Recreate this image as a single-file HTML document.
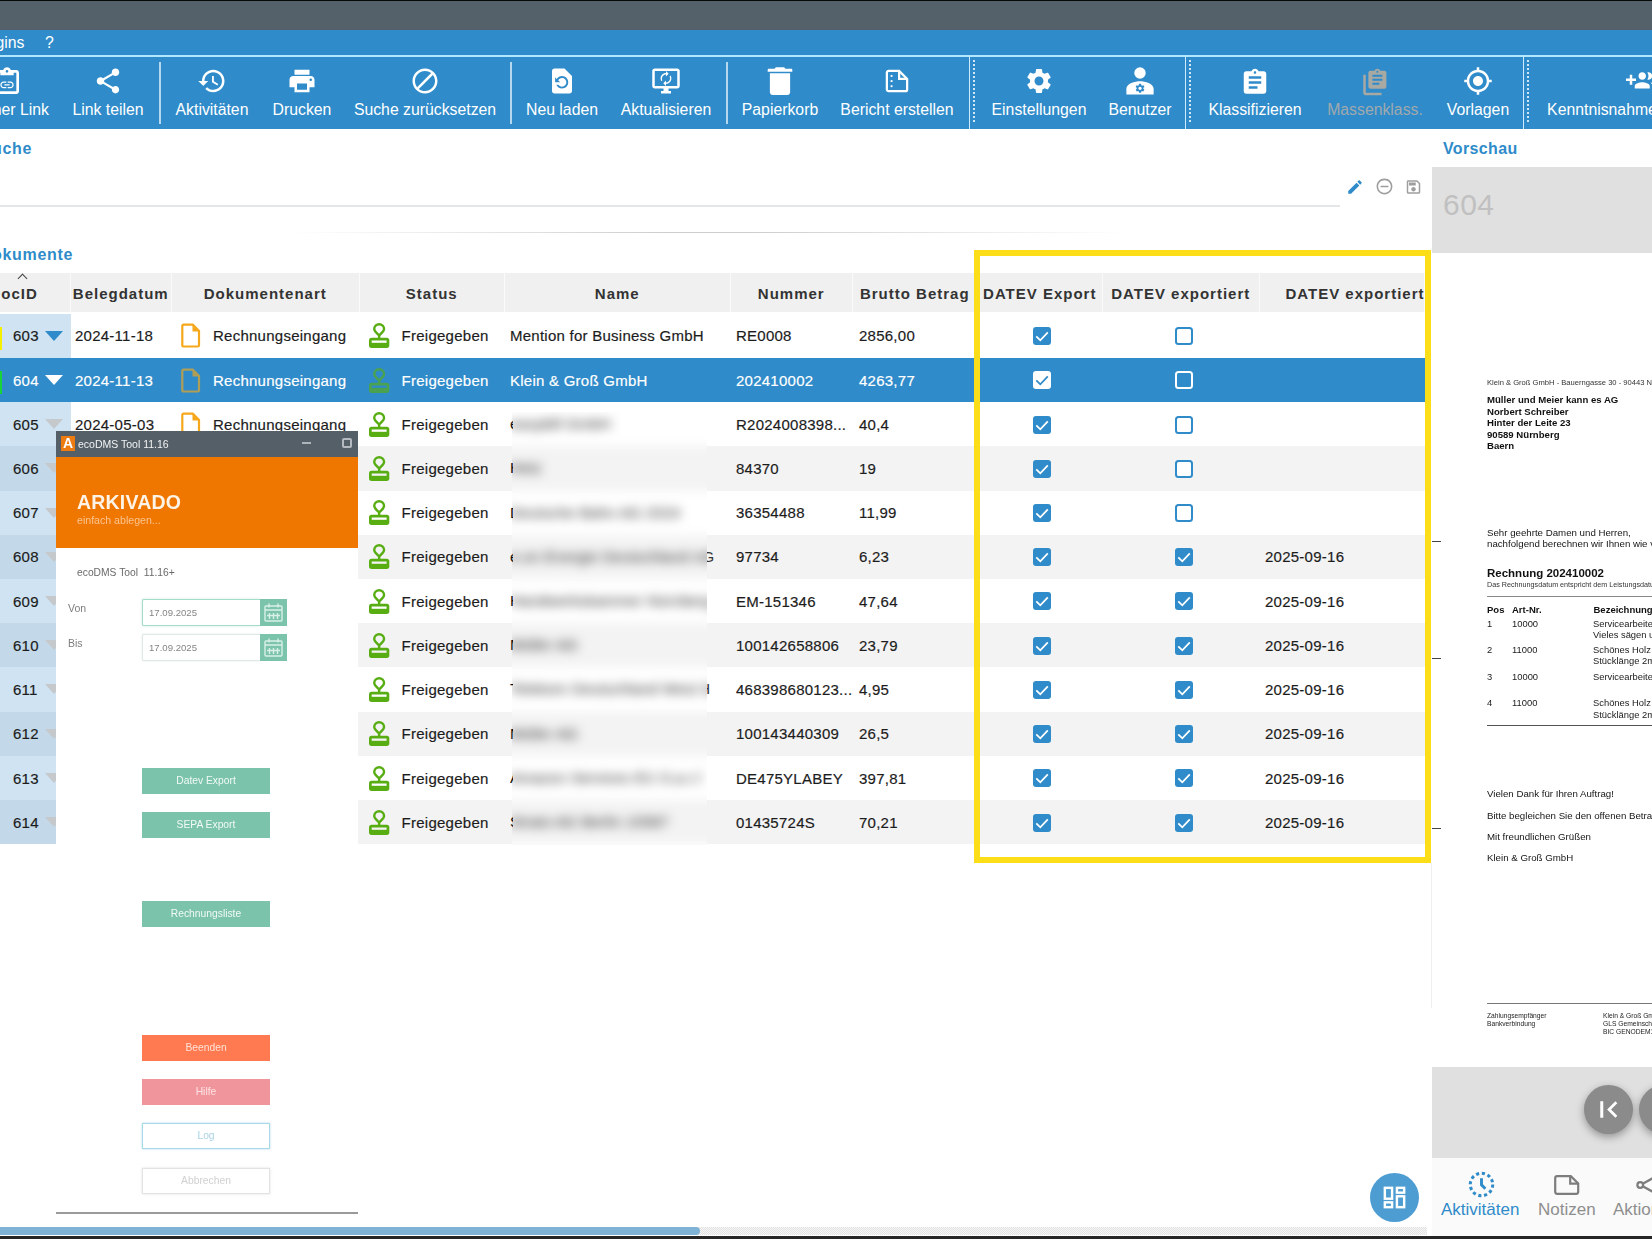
<!DOCTYPE html>
<html lang="de">
<head>
<meta charset="utf-8">
<title>ecoDMS</title>
<style>
*{box-sizing:border-box;margin:0;padding:0}
html,body{width:1652px;height:1239px;overflow:hidden;background:#fff}
body{font-family:"Liberation Sans",Arial,sans-serif;color:#222;position:relative;font-size:15px}
.abs{position:absolute}
#titlebar{left:0;top:0;width:1652px;height:30px;background:#55616a;border-top:1px solid #070808}
#menubar{left:0;top:30px;width:1652px;height:26px;background:#2f8bc9;color:#fff;font-size:15.800px;line-height:26px}
#menuline{left:0;top:55px;width:1652px;height:2px;background:#b2e8ff}
#toolbar{left:0;top:57px;width:1652px;height:72px;background:#2f8bc9}
.tb{position:absolute;top:0;height:72px;color:#fff;font-size:15.800px;text-align:center;white-space:nowrap}
.tb svg{position:absolute;left:50%;top:9px;width:30px;height:30px;margin-left:-15px;fill:#fff}
.tb span{position:absolute;left:50%;top:43.500px;transform:translateX(-50%);line-height:18px}
.tb.dim{color:#a0a9ae}
.tb.dim svg{fill:#a9a9a4}
.sep{position:absolute;top:5px;width:1.500px;height:62px;background:#b5d8ef}
.grip{position:absolute;top:-1px;width:7px;height:73px;border-left:1.300px solid #cfeaff;}
.grip:after{content:"";position:absolute;left:3px;top:4px;width:2px;height:64px;background:repeating-linear-gradient(to bottom,#cfe6f6 0,#cfe6f6 2px,transparent 2px,transparent 4px)}
h2.sec{position:absolute;font-size:16px;letter-spacing:.7px;font-weight:bold;color:#2f8bc9;white-space:nowrap;line-height:18px}

#grid{left:0;top:273px;width:1425px;height:573px;font-size:15px;letter-spacing:.25px;color:#1c1c1c;-webkit-text-stroke:.18px currentColor}
.hrow{position:absolute;left:0;top:0;width:1425px;height:39px;background:#fafafa}
.hc{-webkit-text-stroke:0;position:absolute;top:0;height:39px;background:#f0f0f0;text-align:center;line-height:41px;white-space:nowrap;overflow:hidden;color:#333;font-size:15px;letter-spacing:1px}
.hc.h0{text-align:left}
.hc.h0 b{position:absolute;left:-10.500px}
.hc.h9{text-align:right}
.hc.h9{overflow:visible}
.hc.h9 b{margin-right:-1px}
.sort{position:absolute;left:17.500px;top:0px;width:9px;height:9px}
.sort:before{content:"";position:absolute;left:1px;top:2px;width:6px;height:6px;border-left:1.500px solid #444;border-top:1.500px solid #444;transform:rotate(45deg)}
.row{position:absolute;left:0;width:1425px;background:#fff}
.row.alt{background:#f3f3f3}
.row.sel{background:#2f8bc9;color:#fff}
.c{position:absolute;top:0;height:100%;display:flex;align-items:center;white-space:nowrap}
.c0{left:0;width:71px;background:#cfe3f2}
.alt .c0{background:#c3d9ea}
.sel .c0{background:#2f8bc9}
.id{position:absolute;left:13px}
.tri{position:absolute;left:45px;top:17px;width:0;height:0;border-left:9.500px solid transparent;border-right:9.500px solid transparent;border-top:10.500px solid #c6c9cc}
.row.first .tri{border-top-color:#2f8bc9}
.sel .tri{border-top-color:#fff}
.flag{position:absolute;left:0;top:13.500px;width:2px;height:23px}
.flag.y{background:#f4f000}
.flag.g{background:#18d43a}
.ic{height:24px;flex:none}
.doc{width:20px;height:25px;stroke:#f5a81c;fill:#f5a81c}
.sel .ic{opacity:.66}
.stamp{width:20.300px;height:25px;stroke:#58ad12;fill:#58ad12;margin-top:0}
.stamp .slot{fill:#fff}
.alt .stamp .slot{fill:#f3f3f3}
.sel .stamp .slot{fill:#2f8bc9}
.cb{width:20px;height:20px;flex:none;margin-top:.600px}
.cb.on rect{fill:#2f8bc9}
.cb.on path{stroke:#fff}
.cb.off rect{stroke:#2f8bc9}
.sel .cb.on rect{fill:#fff}
.sel .cb.on path{stroke:#2f8bc9}
.sel .cb.off rect{fill:#2f8bc9;stroke:#fff}

#sline{left:0;top:205px;width:1340px;height:2px;background:#e4e6e8}
#sline2{left:290px;top:232px;width:840px;height:1px;background:linear-gradient(to right,rgba(200,200,200,0),rgba(200,200,200,.9) 45%,rgba(200,200,200,.9) 55%,rgba(200,200,200,0))}
.sico{position:absolute}
#yellow{left:974px;top:250px;width:457px;height:613px;border:6px solid #fcde18;z-index:20}
#pvline{left:1431px;top:863px;width:1px;height:145px;background:#efefef}
#pvhead{left:1432px;top:167px;width:220px;height:87px;background:#e0e0e0}
#pvhead span{position:absolute;left:11px;top:21px;font-size:30px;line-height:34px;color:#c0c0c0;letter-spacing:.5px}
#pvdoc{left:1432px;top:253px;width:220px;height:814px;background:#fff;overflow:hidden;color:#111;filter:blur(.3px)}
#pvdoc div{position:absolute;white-space:nowrap;left:55px}
.tick{position:absolute;left:1432px;width:9px;height:1px;background:#444;z-index:21}
#pvfoot{left:1432px;top:1067px;width:220px;height:91px;background:#e0e0e0;overflow:hidden}
.navc{position:absolute;top:18px;width:49px;height:49px;border-radius:50%;background:#8b8b8b;box-shadow:0 3px 8px rgba(0,0,0,.35)}
#tabs{left:1432px;top:1158px;width:220px;height:78px;background:#fafafa;overflow:hidden;font-size:17px}
#tabs span{position:absolute;top:42.200px;line-height:20px;white-space:nowrap}
#fab{left:1370px;top:1172.500px;width:49px;height:49px;border-radius:50%;background:#4d9dd2}
#hsb{left:0;top:1226.500px;width:1427px;height:8px;background:repeating-conic-gradient(#e2e2e2 0 25%,#f6f6f6 0 50%) 0 0/2px 2px}
#hthumb{left:0;top:1226.500px;width:700px;height:8px;background:#7fb3d6;border-radius:0 4px 4px 0}
#botline{left:0;top:1236.300px;width:1652px;height:4px;background:#262626}

#win{left:56px;top:431px;width:302px;height:783px;background:#fff;z-index:30;overflow:hidden;border-bottom:2px solid #9a9a9a}
#win .tbar{position:absolute;left:0;top:0;width:302px;height:26px;background:#555f67}
#win .logo{position:absolute;left:5px;top:5px;width:14px;height:15px;background:#ee7a12;color:#fff;font-weight:bold;font-size:14px;line-height:15px;text-align:center;filter:blur(.4px)}
#win .ttl{position:absolute;left:22px;top:6px;font-size:10.500px;line-height:14px;color:#f2f4f5;filter:blur(.6px);white-space:nowrap}
#win .wbtn{position:absolute;top:0;color:#aeb5ba;filter:blur(.5px)}
#win .ban{position:absolute;left:0;top:26px;width:302px;height:91px;background:#ef7700}
#win .ban b{position:absolute;left:21px;top:34px;font-size:19.500px;line-height:22px;color:#fdf3e6;letter-spacing:.2px;filter:blur(.45px)}
#win .ban i{position:absolute;left:21px;top:57px;font-style:normal;font-size:10.600px;line-height:12px;color:#fbc490;filter:blur(.5px)}
#win .lbl{position:absolute;font-size:10.500px;line-height:12px;color:#7d7d7d;filter:blur(.45px);white-space:nowrap}
#win .inp{position:absolute;left:86px;width:118px;height:27px;border-radius:2px 0 0 2px;border:1.500px solid #a5dccb;border-right:none;background:#fff;box-shadow:0 0 2px rgba(140,210,185,.6)}
#win .inp span{position:absolute;left:6px;top:7px;font-size:9.600px;line-height:11px;color:#858585;filter:blur(.45px)}
#win .cal{position:absolute;left:204px;width:27px;height:27px;background:#7bc4ab}
#win .btn{position:absolute;left:86px;width:128px;height:26px;text-align:center;font-size:10.300px;line-height:26px;color:#f1faf7;white-space:nowrap}
#win .btn em{font-style:normal;filter:blur(.45px);display:inline-block}
#win .teal{background:#7cc3ab}
#nmblur{left:512px;top:412px;width:195px;height:433.3px;overflow:hidden;z-index:6}
#nmblur .inner{position:absolute;left:-30px;top:-30px;width:255px;height:493.3px;background:#fff;filter:blur(5.200px)}
#nmblur .st{position:absolute;left:0;width:100%;height:44.220px;font-size:15px;letter-spacing:.25px;line-height:44px;white-space:nowrap;color:#222}
#nmblur .st span{position:absolute;left:28px;top:0}
.nsl{position:absolute;left:510px;width:2.500px;height:44.220px;overflow:hidden;z-index:6;font-size:15px;line-height:44px;white-space:nowrap;color:#111}
.ntl{position:absolute;left:706.500px;width:7.500px;height:44.220px;overflow:hidden;z-index:6;font-size:15px;line-height:44px;white-space:nowrap;color:#333}
.ntl span{position:absolute;top:0}
</style>
</head>
<body>
<div id="titlebar" class="abs"></div>
<div id="menubar" class="abs"><span class="abs" style="left:-4.500px">gins</span><span class="abs" style="left:45px">?</span></div>
<div id="menuline" class="abs"></div>
<div id="toolbar" class="abs">
<div class="tb" style="left:8px;width:0"><svg viewBox="0 0 24 24" style="left:-2.500px;width:32px;height:32px;top:8.500px"><path fill-rule="evenodd" d="M19 3h-4.180C14.400 1.840 13.300 1 12 1c-1.300 0-2.400.84-2.820 2H5c-1.100 0-2 .9-2 2v14c0 1.100.9 2 2 2h14c1.100 0 2-.9 2-2V5c0-1.100-.9-2-2-2zm-7 0c.55 0 1 .45 1 1s-.45 1-1 1-1-.45-1-1 .45-1 1-1zm7 16H5V5h2v2h10V5h2v14z"/><g transform="translate(6 8.200) scale(.5)"><path d="M3.900 12c0-1.710 1.390-3.100 3.100-3.100h4V7H7c-2.760 0-5 2.240-5 5s2.240 5 5 5h4v-1.900H7c-1.710 0-3.100-1.390-3.100-3.100zM8 13h8v-2H8v2zm9-6h-4v1.900h4c1.710 0 3.100 1.390 3.100 3.100s-1.390 3.100-3.100 3.100h-4V17h4c2.760 0 5-2.240 5-5s-2.240-5-5-5z"/></g></svg><span style="left:auto;right:-41px;transform:none">Interner Link</span></div>
<div class="tb" style="left:108px;width:0"><svg viewBox="0 0 24 24" style="left:0px"><path d="M18 16.08c-.76 0-1.44.3-1.96.77L8.91 12.7c.05-.23.09-.46.09-.7s-.04-.47-.09-.7l7.05-4.11c.54.5 1.25.81 2.04.81 1.66 0 3-1.34 3-3s-1.34-3-3-3-3 1.34-3 3c0 .24.04.47.09.7L8.04 9.81C7.5 9.31 6.79 9 6 9c-1.66 0-3 1.34-3 3s1.34 3 3 3c.79 0 1.5-.31 2.04-.81l7.12 4.16c-.05.21-.08.43-.08.65 0 1.61 1.31 2.92 2.92 2.92 1.61 0 2.92-1.31 2.92-2.92s-1.31-2.92-2.92-2.92z"/></svg><span style="left:0px">Link teilen</span></div>
<div class="tb" style="left:212px;width:0"><svg viewBox="0 0 24 24" style="left:0px"><path d="M13 3c-4.97 0-9 4.03-9 9H1l3.89 3.89.07.14L9 12H6c0-3.87 3.13-7 7-7s7 3.13 7 7-3.13 7-7 7c-1.93 0-3.68-.79-4.94-2.06l-1.42 1.42C8.27 19.99 10.51 21 13 21c4.970 0 9-4.03 9-9s-4.03-9-9-9zm-1 5v5l4.280 2.540.72-1.210-3.500-2.080V8H12z"/></svg><span style="left:0px">Aktivitäten</span></div>
<div class="tb" style="left:302px;width:0"><svg viewBox="0 0 24 24" style="left:0px"><path d="M19 8H5c-1.660 0-3 1.340-3 3v6h4v4h12v-4h4v-6c0-1.660-1.340-3-3-3zm-3 11H8v-5h8v5zm3-7c-.55 0-1-.45-1-1s.45-1 1-1 1 .45 1 1-.45 1-1 1zm-1-9H6v4h12V3z"/></svg><span style="left:0px">Drucken</span></div>
<div class="tb" style="left:425px;width:0"><svg viewBox="0 0 24 24" style="left:0px"><path d="M12 2C6.480 2 2 6.480 2 12s4.480 10 10 10 10-4.480 10-10S17.520 2 12 2zM4 12c0-4.420 3.580-8 8-8 1.850 0 3.550.63 4.900 1.690L5.690 16.900C4.630 15.550 4 13.850 4 12zm8 8c-1.850 0-3.550-.63-4.900-1.690L18.310 7.100C19.370 8.450 20 10.150 20 12c0 4.420-3.580 8-8 8z"/></svg><span style="left:0px">Suche zurücksetzen</span></div>
<div class="tb" style="left:562px;width:0"><svg viewBox="0 0 24 24" style="left:0px"><path d="M14 2H6c-1.100 0-1.990.9-1.990 2L4 20c0 1.100.890 2 1.990 2H18c1.100 0 2-.9 2-2V8l-6-6zm-2 16c-2.050 0-3.810-1.240-4.580-3h1.710c.63.9 1.680 1.500 2.870 1.500 1.930 0 3.500-1.570 3.500-3.500S13.930 9.500 12 9.500c-1.350 0-2.520.78-3.100 1.900l1.600 1.600h-4V9l1.300 1.300C8.690 8.920 10.230 8 12 8c2.760 0 5 2.240 5 5s-2.240 5-5 5z"/></svg><span style="left:0px">Neu laden</span></div>
<div class="tb" style="left:666px;width:0"><svg viewBox="0 0 24 24" style="left:0px"><path d="M21 2H3c-1.100 0-2 .9-2 2v12c0 1.100.9 2 2 2h7v2H8v2h8v-2h-2v-2h7c1.100 0 2-.9 2-2V4c0-1.100-.9-2-2-2zm0 14H3V4h18v12z"/><g transform="translate(5.500 3.500) scale(.54)"><path d="M12 6v3l4-4-4-4v3c-4.420 0-8 3.580-8 8 0 1.570.46 3.030 1.240 4.260L6.700 14.800c-.45-.83-.7-1.790-.7-2.800 0-3.310 2.690-6 6-6zm6.760 1.740L17.300 9.200c.44.84.7 1.790.7 2.800 0 3.310-2.690 6-6 6v-3l-4 4 4 4v-3c4.420 0 8-3.580 8-8 0-1.570-.46-3.030-1.240-4.260z"/></g></svg><span style="left:0px">Aktualisieren</span></div>
<div class="tb" style="left:780px;width:0"><svg viewBox="0 0 24 24" style="left:0px"><path d="M7.800 2.200c0-.7.600-1.300 1.300-1.300h5.800c.7 0 1.300.6 1.300 1.300H21c.5 0 .85.4.85.85V4.600H2.150V3.050c0-.45.4-.85.85-.85zM3.900 5.700h16.200v15.200c0 1.200-1 2.200-2.200 2.200H6.100c-1.200 0-2.200-1-2.200-2.200z"/></svg><span style="left:0px">Papierkorb</span></div>
<div class="tb" style="left:897px;width:0"><svg viewBox="0 0 24 24" style="left:0px"><path d="M5.300 3.900h8.400l6.400 6.400v8.400c0 .75-.6 1.400-1.400 1.400H5.300c-.75 0-1.400-.6-1.400-1.400V5.300c0-.75.6-1.400 1.400-1.400z" fill="none" stroke="#fff" stroke-width="1.800"/><path d="M13.700 3.900v6.400h6.400" fill="none" stroke="#fff" stroke-width="1.800"/><rect x="6.900" y="7.200" width="1.500" height="1.500"/><rect x="6.900" y="11.300" width="1.500" height="1.500"/><rect x="6.900" y="15.400" width="1.500" height="1.500"/></svg><span style="left:0px">Bericht erstellen</span></div>
<div class="tb" style="left:1039px;width:0"><svg viewBox="0 0 24 24" style="left:0px"><path d="M19.140 12.940c.04-.3.06-.61.06-.94 0-.32-.02-.64-.07-.94l2.030-1.580c.18-.14.23-.41.12-.61l-1.920-3.320c-.12-.22-.37-.29-.59-.22l-2.390.96c-.5-.38-1.030-.7-1.620-.94l-.36-2.540c-.04-.24-.24-.41-.48-.41h-3.840c-.24 0-.43.17-.47.41l-.36 2.540c-.59.24-1.130.57-1.620.94l-2.390-.96c-.22-.08-.47 0-.59.22L2.740 8.870c-.12.21-.08.47.12.61l2.030 1.580c-.05.3-.09.63-.09.94s.02.64.07.94l-2.030 1.580c-.18.14-.23.41-.12.61l1.920 3.320c.12.22.37.29.59.22l2.390-.96c.5.38 1.030.7 1.620.94l.36 2.540c.05.24.24.41.48.41h3.840c.24 0 .44-.17.47-.41l.36-2.540c.59-.24 1.130-.56 1.620-.94l2.390.96c.22.08.47 0 .59-.22l1.920-3.320c.12-.22.07-.47-.12-.61l-2.010-1.580zM12 15.600c-1.980 0-3.600-1.620-3.600-3.600s1.620-3.600 3.600-3.600 3.600 1.620 3.600 3.600-1.620 3.600-3.600 3.600z"/></svg><span style="left:0px">Einstellungen</span></div>
<div class="tb" style="left:1140px;width:0"><svg viewBox="0 0 24 24" style="left:0px"><g transform="translate(12 12.500) scale(1.090) translate(-12 -12.500)"><circle cx="12" cy="6.200" r="4.200"/><path d="M12 12.200c-3.600 0-10 1.800-10 5.400V22h20v-4.400c0-3.600-6.400-5.400-10-5.400z"/></g><g transform="translate(7.600 13.400) scale(.37)" fill="#2f8bc9"><path d="M19.140 12.940c.04-.3.06-.61.06-.94 0-.32-.02-.64-.07-.94l2.030-1.580c.18-.14.23-.41.12-.61l-1.920-3.320c-.12-.22-.37-.29-.59-.22l-2.390.96c-.5-.38-1.030-.7-1.620-.94l-.36-2.540c-.04-.24-.24-.41-.48-.41h-3.840c-.24 0-.43.17-.47.41l-.36 2.540c-.59.24-1.130.57-1.620.94l-2.390-.96c-.22-.08-.47 0-.59.22L2.740 8.870c-.12.21-.08.47.12.61l2.030 1.580c-.05.3-.09.63-.09.94s.02.64.07.94l-2.030 1.580c-.18.14-.23.41-.12.61l1.920 3.320c.12.22.37.29.59.22l2.390-.96c.5.38 1.030.7 1.620.94l.36 2.540c.05.24.24.41.48.41h3.840c.24 0 .44-.17.47-.41l.36-2.540c.59-.24 1.130-.56 1.620-.94l2.390.96c.22.08.47 0 .59-.22l1.920-3.320c.12-.22.07-.47-.12-.61l-2.010-1.580zM12 15.600c-1.980 0-3.600-1.620-3.600-3.600s1.620-3.600 3.600-3.600 3.600 1.620 3.600 3.600-1.620 3.600-3.600 3.600z"/></g></svg><span style="left:0px">Benutzer</span></div>
<div class="tb" style="left:1255px;width:0"><svg viewBox="0 0 24 24" style="left:0px"><path transform="translate(0 1.100)" d="M19 3h-4.180C14.400 1.840 13.300 1 12 1c-1.300 0-2.400.84-2.820 2H5c-1.100 0-2 .9-2 2v14c0 1.100.9 2 2 2h14c1.100 0 2-.9 2-2V5c0-1.100-.9-2-2-2zm-7 0c.55 0 1 .45 1 1s-.45 1-1 1-1-.45-1-1 .45-1 1-1zm2 14H7v-2h7v2zm3-4H7v-2h10v2zm0-4H7V7h10v2z"/></svg><span style="left:0px">Klassifizieren</span></div>
<div class="tb dim" style="left:1375px;width:0"><svg viewBox="0 0 24 24" style="left:0px"><path d="M2.600 7h2v14.400h12.600v2H4.600c-1.100 0-2-.9-2-2V7z"/><g transform="translate(4.300 1.400) scale(.8)"><path d="M19 3h-4.180C14.400 1.840 13.300 1 12 1c-1.300 0-2.400.84-2.820 2H5c-1.100 0-2 .9-2 2v14c0 1.100.9 2 2 2h14c1.100 0 2-.9 2-2V5c0-1.100-.9-2-2-2zm-7 0c.55 0 1 .45 1 1s-.45 1-1 1-1-.45-1-1 .45-1 1-1zm2 14H7v-2h7v2zm3-4H7v-2h10v2zm0-4H7V7h10v2z"/></g></svg><span style="left:0px">Massenklass.</span></div>
<div class="tb" style="left:1478px;width:0"><svg viewBox="0 0 24 24" style="left:0px"><path d="M12 8c-2.210 0-4 1.790-4 4s1.790 4 4 4 4-1.790 4-4-1.790-4-4-4zm8.940 3c-.46-4.170-3.770-7.480-7.940-7.940V1h-2v2.060C6.830 3.520 3.520 6.830 3.060 11H1v2h2.060c.46 4.170 3.770 7.480 7.940 7.940V23h2v-2.060c4.170-.46 7.480-3.770 7.940-7.940H23v-2h-2.060zM12 19c-3.870 0-7-3.130-7-7s3.130-7 7-7 7 3.130 7 7-3.130 7-7 7z"/></svg><span style="left:0px">Vorlagen</span></div>
<div class="tb" style="left:1602px;width:0"><svg viewBox="0 0 24 24" style="left:39px"><path d="M8 10H5V7H3v3H0v2h3v3h2v-3h3v-2zm10 1c1.660 0 2.990-1.340 2.990-3S19.660 5 18 5c-.32 0-.63.05-.91.14.57.81.9 1.790.9 2.860s-.34 2.040-.9 2.860c.28.09.59.14.91.14zm-5 0c1.660 0 2.990-1.340 2.990-3S14.660 5 13 5c-1.660 0-3 1.340-3 3s1.340 3 3 3zm6.620 2.160c.83.73 1.380 1.660 1.380 2.840v2h3v-2c0-1.540-2.370-2.490-4.380-2.840zM13 13c-2 0-6 1-6 3v2h12v-2c0-2-4-3-6-3z"/></svg><span style="left:0px">Kenntnisnahme</span></div>
<div class="sep" style="left:159px"></div>
<div class="sep" style="left:510px"></div>
<div class="sep" style="left:726px"></div>
<div class="grip" style="left:969px"></div>
<div class="grip" style="left:1185px"></div>
<div class="grip" style="left:1523px"></div>
</div>
<h2 class="sec" style="left:-8px;top:139.700px">uche</h2>
<h2 class="sec" style="left:1443px;top:140px;letter-spacing:.35px">Vorschau</h2>
<h2 class="sec" style="left:-8px;top:246px">okumente</h2>
<div id="grid" class="abs">
<div class="hrow">
<div class="hc h0" style="left:0px;width:69.5px"><i class="sort"></i><b>DocID</b></div>
<div class="hc" style="left:71px;width:99.5px"><b>Belegdatum</b></div>
<div class="hc" style="left:172px;width:186.5px"><b>Dokumentenart</b></div>
<div class="hc" style="left:360px;width:143.5px"><b>Status</b></div>
<div class="hc" style="left:505px;width:224.5px"><b>Name</b></div>
<div class="hc" style="left:731px;width:120.5px"><b>Nummer</b></div>
<div class="hc" style="left:853px;width:123.5px"><b>Brutto Betrag</b></div>
<div class="hc" style="left:978px;width:123.5px"><b>DATEV Export</b></div>
<div class="hc" style="left:1103px;width:155.5px"><b>DATEV exportiert</b></div>
<div class="hc h9" style="left:1260px;width:163.5px"><b>DATEV exportiert</b></div>
</div>
<div class="row first" style="top:40.70px;height:44.22px">
<div class="c c0"><i class="flag y"></i><span class="id">603</span><i class="tri"></i></div>
<div class="c" style="left:75px">2024-11-18</div>
<div class="c" style="left:181px"><svg class="ic doc" viewBox="0 0 20 24"><path d="M2.500 1.200h9.300l6.200 6.200v14.400c0 .7-.5 1.200-1.200 1.200H2.500c-.7 0-1.200-.5-1.200-1.200V2.400c0-.7.5-1.200 1.200-1.200z" fill="none" stroke-width="2.200"/><path d="M11.500 1v7h7z" stroke="none" class="fold"/></svg><span style="margin-left:12px">Rechnungseingang</span></div>
<div class="c" style="left:369.300px"><svg class="ic stamp" viewBox="0 0 20.300 25"><path d="M10.150 12.500C7.600 10 5.250 8.300 5.250 6.100a4.900 4.900 0 1 1 9.800 0c0 2.200-2.350 3.900-4.900 6.400z" fill="none" stroke-width="2.400" stroke-linejoin="round"/><rect x="8.950" y="12.800" width="2.400" height="2.500" stroke="none"/><rect x="0" y="14.700" width="20.300" height="10.200" rx="2.600" stroke="none"/><rect class="slot" x="2.700" y="17.500" width="14.900" height="2.300" stroke="none"/></svg><span style="margin-left:12px">Freigegeben</span></div>
<div class="c" style="left:510px">Mention for Business GmbH</div>
<div class="c" style="left:736px">RE0008</div>
<div class="c" style="left:859px">2856,00</div>
<div class="c" style="left:1031.500px"><svg class="cb on" viewBox="0 0 20 20"><rect x="1" y="1" width="18" height="18" rx="3" ry="3"/><path d="M4.300 10.300l4 4 7.500-8" fill="none" stroke-width="1.800"/></svg></div>
<div class="c" style="left:1173.700px"><svg class="cb off" viewBox="0 0 20 20"><rect x="2" y="2" width="16" height="16" rx="2.500" ry="2.500" fill="#fff" stroke-width="2"/></svg></div>
</div>
<div class="row alt sel" style="top:84.92px;height:44.22px">
<div class="c c0"><i class="flag g"></i><span class="id">604</span><i class="tri"></i></div>
<div class="c" style="left:75px">2024-11-13</div>
<div class="c" style="left:181px"><svg class="ic doc" viewBox="0 0 20 24"><path d="M2.500 1.200h9.300l6.200 6.200v14.400c0 .7-.5 1.200-1.200 1.200H2.500c-.7 0-1.200-.5-1.200-1.200V2.400c0-.7.5-1.200 1.200-1.200z" fill="none" stroke-width="2.200"/><path d="M11.500 1v7h7z" stroke="none" class="fold"/></svg><span style="margin-left:12px">Rechnungseingang</span></div>
<div class="c" style="left:369.300px"><svg class="ic stamp" viewBox="0 0 20.300 25"><path d="M10.150 12.500C7.600 10 5.250 8.300 5.250 6.100a4.900 4.900 0 1 1 9.800 0c0 2.200-2.350 3.900-4.900 6.400z" fill="none" stroke-width="2.400" stroke-linejoin="round"/><rect x="8.950" y="12.800" width="2.400" height="2.500" stroke="none"/><rect x="0" y="14.700" width="20.300" height="10.200" rx="2.600" stroke="none"/><rect class="slot" x="2.700" y="17.500" width="14.900" height="2.300" stroke="none"/></svg><span style="margin-left:12px">Freigegeben</span></div>
<div class="c" style="left:510px">Klein &amp; Groß GmbH</div>
<div class="c" style="left:736px">202410002</div>
<div class="c" style="left:859px">4263,77</div>
<div class="c" style="left:1031.500px"><svg class="cb on" viewBox="0 0 20 20"><rect x="1" y="1" width="18" height="18" rx="3" ry="3"/><path d="M4.300 10.300l4 4 7.500-8" fill="none" stroke-width="1.800"/></svg></div>
<div class="c" style="left:1173.700px"><svg class="cb off" viewBox="0 0 20 20"><rect x="2" y="2" width="16" height="16" rx="2.500" ry="2.500" fill="#fff" stroke-width="2"/></svg></div>
</div>
<div class="row" style="top:129.14px;height:44.22px">
<div class="c c0"><span class="id">605</span><i class="tri"></i></div>
<div class="c" style="left:75px">2024-05-03</div>
<div class="c" style="left:181px"><svg class="ic doc" viewBox="0 0 20 24"><path d="M2.500 1.200h9.300l6.200 6.200v14.400c0 .7-.5 1.200-1.200 1.200H2.500c-.7 0-1.200-.5-1.200-1.200V2.400c0-.7.5-1.200 1.200-1.200z" fill="none" stroke-width="2.200"/><path d="M11.500 1v7h7z" stroke="none" class="fold"/></svg><span style="margin-left:12px">Rechnungseingang</span></div>
<div class="c" style="left:369.300px"><svg class="ic stamp" viewBox="0 0 20.300 25"><path d="M10.150 12.500C7.600 10 5.250 8.300 5.250 6.100a4.900 4.900 0 1 1 9.800 0c0 2.200-2.350 3.900-4.900 6.400z" fill="none" stroke-width="2.400" stroke-linejoin="round"/><rect x="8.950" y="12.800" width="2.400" height="2.500" stroke="none"/><rect x="0" y="14.700" width="20.300" height="10.200" rx="2.600" stroke="none"/><rect class="slot" x="2.700" y="17.500" width="14.900" height="2.300" stroke="none"/></svg><span style="margin-left:12px">Freigegeben</span></div>
<div class="c" style="left:510px"></div>
<div class="c" style="left:736px">R2024008398...</div>
<div class="c" style="left:859px">40,4</div>
<div class="c" style="left:1031.500px"><svg class="cb on" viewBox="0 0 20 20"><rect x="1" y="1" width="18" height="18" rx="3" ry="3"/><path d="M4.300 10.300l4 4 7.500-8" fill="none" stroke-width="1.800"/></svg></div>
<div class="c" style="left:1173.700px"><svg class="cb off" viewBox="0 0 20 20"><rect x="2" y="2" width="16" height="16" rx="2.500" ry="2.500" fill="#fff" stroke-width="2"/></svg></div>
</div>
<div class="row alt" style="top:173.36px;height:44.22px">
<div class="c c0"><span class="id">606</span><i class="tri"></i></div>
<div class="c" style="left:75px">2024-05-02</div>
<div class="c" style="left:181px"><svg class="ic doc" viewBox="0 0 20 24"><path d="M2.500 1.200h9.300l6.200 6.200v14.400c0 .7-.5 1.200-1.200 1.200H2.500c-.7 0-1.200-.5-1.200-1.200V2.400c0-.7.5-1.200 1.200-1.200z" fill="none" stroke-width="2.200"/><path d="M11.500 1v7h7z" stroke="none" class="fold"/></svg><span style="margin-left:12px">Rechnungseingang</span></div>
<div class="c" style="left:369.300px"><svg class="ic stamp" viewBox="0 0 20.300 25"><path d="M10.150 12.500C7.600 10 5.250 8.300 5.250 6.100a4.900 4.900 0 1 1 9.800 0c0 2.200-2.350 3.900-4.900 6.400z" fill="none" stroke-width="2.400" stroke-linejoin="round"/><rect x="8.950" y="12.800" width="2.400" height="2.500" stroke="none"/><rect x="0" y="14.700" width="20.300" height="10.200" rx="2.600" stroke="none"/><rect class="slot" x="2.700" y="17.500" width="14.900" height="2.300" stroke="none"/></svg><span style="margin-left:12px">Freigegeben</span></div>
<div class="c" style="left:510px"></div>
<div class="c" style="left:736px">84370</div>
<div class="c" style="left:859px">19</div>
<div class="c" style="left:1031.500px"><svg class="cb on" viewBox="0 0 20 20"><rect x="1" y="1" width="18" height="18" rx="3" ry="3"/><path d="M4.300 10.300l4 4 7.500-8" fill="none" stroke-width="1.800"/></svg></div>
<div class="c" style="left:1173.700px"><svg class="cb off" viewBox="0 0 20 20"><rect x="2" y="2" width="16" height="16" rx="2.500" ry="2.500" fill="#fff" stroke-width="2"/></svg></div>
</div>
<div class="row" style="top:217.58px;height:44.22px">
<div class="c c0"><span class="id">607</span><i class="tri"></i></div>
<div class="c" style="left:75px">2024-04-30</div>
<div class="c" style="left:181px"><svg class="ic doc" viewBox="0 0 20 24"><path d="M2.500 1.200h9.300l6.200 6.200v14.400c0 .7-.5 1.200-1.200 1.200H2.500c-.7 0-1.200-.5-1.200-1.200V2.400c0-.7.5-1.200 1.200-1.200z" fill="none" stroke-width="2.200"/><path d="M11.500 1v7h7z" stroke="none" class="fold"/></svg><span style="margin-left:12px">Rechnungseingang</span></div>
<div class="c" style="left:369.300px"><svg class="ic stamp" viewBox="0 0 20.300 25"><path d="M10.150 12.500C7.600 10 5.250 8.300 5.250 6.100a4.900 4.900 0 1 1 9.800 0c0 2.200-2.350 3.900-4.900 6.400z" fill="none" stroke-width="2.400" stroke-linejoin="round"/><rect x="8.950" y="12.800" width="2.400" height="2.500" stroke="none"/><rect x="0" y="14.700" width="20.300" height="10.200" rx="2.600" stroke="none"/><rect class="slot" x="2.700" y="17.500" width="14.900" height="2.300" stroke="none"/></svg><span style="margin-left:12px">Freigegeben</span></div>
<div class="c" style="left:510px"></div>
<div class="c" style="left:736px">36354488</div>
<div class="c" style="left:859px">11,99</div>
<div class="c" style="left:1031.500px"><svg class="cb on" viewBox="0 0 20 20"><rect x="1" y="1" width="18" height="18" rx="3" ry="3"/><path d="M4.300 10.300l4 4 7.500-8" fill="none" stroke-width="1.800"/></svg></div>
<div class="c" style="left:1173.700px"><svg class="cb off" viewBox="0 0 20 20"><rect x="2" y="2" width="16" height="16" rx="2.500" ry="2.500" fill="#fff" stroke-width="2"/></svg></div>
</div>
<div class="row alt" style="top:261.80px;height:44.22px">
<div class="c c0"><span class="id">608</span><i class="tri"></i></div>
<div class="c" style="left:75px">2024-04-29</div>
<div class="c" style="left:181px"><svg class="ic doc" viewBox="0 0 20 24"><path d="M2.500 1.200h9.300l6.200 6.200v14.400c0 .7-.5 1.200-1.200 1.200H2.500c-.7 0-1.200-.5-1.200-1.200V2.400c0-.7.5-1.200 1.200-1.200z" fill="none" stroke-width="2.200"/><path d="M11.500 1v7h7z" stroke="none" class="fold"/></svg><span style="margin-left:12px">Rechnungseingang</span></div>
<div class="c" style="left:369.300px"><svg class="ic stamp" viewBox="0 0 20.300 25"><path d="M10.150 12.500C7.600 10 5.250 8.300 5.250 6.100a4.900 4.900 0 1 1 9.800 0c0 2.200-2.350 3.900-4.900 6.400z" fill="none" stroke-width="2.400" stroke-linejoin="round"/><rect x="8.950" y="12.800" width="2.400" height="2.500" stroke="none"/><rect x="0" y="14.700" width="20.300" height="10.200" rx="2.600" stroke="none"/><rect class="slot" x="2.700" y="17.500" width="14.900" height="2.300" stroke="none"/></svg><span style="margin-left:12px">Freigegeben</span></div>
<div class="c" style="left:510px"></div>
<div class="c" style="left:736px">97734</div>
<div class="c" style="left:859px">6,23</div>
<div class="c" style="left:1031.500px"><svg class="cb on" viewBox="0 0 20 20"><rect x="1" y="1" width="18" height="18" rx="3" ry="3"/><path d="M4.300 10.300l4 4 7.500-8" fill="none" stroke-width="1.800"/></svg></div>
<div class="c" style="left:1173.700px"><svg class="cb on" viewBox="0 0 20 20"><rect x="1" y="1" width="18" height="18" rx="3" ry="3"/><path d="M4.300 10.300l4 4 7.500-8" fill="none" stroke-width="1.800"/></svg></div>
<div class="c" style="left:1265px">2025-09-16</div>
</div>
<div class="row" style="top:306.02px;height:44.22px">
<div class="c c0"><span class="id">609</span><i class="tri"></i></div>
<div class="c" style="left:75px">2024-04-26</div>
<div class="c" style="left:181px"><svg class="ic doc" viewBox="0 0 20 24"><path d="M2.500 1.200h9.300l6.200 6.200v14.400c0 .7-.5 1.200-1.200 1.200H2.500c-.7 0-1.200-.5-1.200-1.200V2.400c0-.7.5-1.200 1.200-1.200z" fill="none" stroke-width="2.200"/><path d="M11.500 1v7h7z" stroke="none" class="fold"/></svg><span style="margin-left:12px">Rechnungseingang</span></div>
<div class="c" style="left:369.300px"><svg class="ic stamp" viewBox="0 0 20.300 25"><path d="M10.150 12.500C7.600 10 5.250 8.300 5.250 6.100a4.900 4.900 0 1 1 9.800 0c0 2.200-2.350 3.900-4.900 6.400z" fill="none" stroke-width="2.400" stroke-linejoin="round"/><rect x="8.950" y="12.800" width="2.400" height="2.500" stroke="none"/><rect x="0" y="14.700" width="20.300" height="10.200" rx="2.600" stroke="none"/><rect class="slot" x="2.700" y="17.500" width="14.900" height="2.300" stroke="none"/></svg><span style="margin-left:12px">Freigegeben</span></div>
<div class="c" style="left:510px"></div>
<div class="c" style="left:736px">EM-151346</div>
<div class="c" style="left:859px">47,64</div>
<div class="c" style="left:1031.500px"><svg class="cb on" viewBox="0 0 20 20"><rect x="1" y="1" width="18" height="18" rx="3" ry="3"/><path d="M4.300 10.300l4 4 7.500-8" fill="none" stroke-width="1.800"/></svg></div>
<div class="c" style="left:1173.700px"><svg class="cb on" viewBox="0 0 20 20"><rect x="1" y="1" width="18" height="18" rx="3" ry="3"/><path d="M4.300 10.300l4 4 7.500-8" fill="none" stroke-width="1.800"/></svg></div>
<div class="c" style="left:1265px">2025-09-16</div>
</div>
<div class="row alt" style="top:350.24px;height:44.22px">
<div class="c c0"><span class="id">610</span><i class="tri"></i></div>
<div class="c" style="left:75px">2024-04-25</div>
<div class="c" style="left:181px"><svg class="ic doc" viewBox="0 0 20 24"><path d="M2.500 1.200h9.300l6.200 6.200v14.400c0 .7-.5 1.200-1.200 1.200H2.500c-.7 0-1.200-.5-1.200-1.200V2.400c0-.7.5-1.200 1.200-1.200z" fill="none" stroke-width="2.200"/><path d="M11.500 1v7h7z" stroke="none" class="fold"/></svg><span style="margin-left:12px">Rechnungseingang</span></div>
<div class="c" style="left:369.300px"><svg class="ic stamp" viewBox="0 0 20.300 25"><path d="M10.150 12.500C7.600 10 5.250 8.300 5.250 6.100a4.900 4.900 0 1 1 9.800 0c0 2.200-2.350 3.900-4.900 6.400z" fill="none" stroke-width="2.400" stroke-linejoin="round"/><rect x="8.950" y="12.800" width="2.400" height="2.500" stroke="none"/><rect x="0" y="14.700" width="20.300" height="10.200" rx="2.600" stroke="none"/><rect class="slot" x="2.700" y="17.500" width="14.900" height="2.300" stroke="none"/></svg><span style="margin-left:12px">Freigegeben</span></div>
<div class="c" style="left:510px"></div>
<div class="c" style="left:736px">100142658806</div>
<div class="c" style="left:859px">23,79</div>
<div class="c" style="left:1031.500px"><svg class="cb on" viewBox="0 0 20 20"><rect x="1" y="1" width="18" height="18" rx="3" ry="3"/><path d="M4.300 10.300l4 4 7.500-8" fill="none" stroke-width="1.800"/></svg></div>
<div class="c" style="left:1173.700px"><svg class="cb on" viewBox="0 0 20 20"><rect x="1" y="1" width="18" height="18" rx="3" ry="3"/><path d="M4.300 10.300l4 4 7.500-8" fill="none" stroke-width="1.800"/></svg></div>
<div class="c" style="left:1265px">2025-09-16</div>
</div>
<div class="row" style="top:394.46px;height:44.22px">
<div class="c c0"><span class="id">611</span><i class="tri"></i></div>
<div class="c" style="left:75px">2024-04-24</div>
<div class="c" style="left:181px"><svg class="ic doc" viewBox="0 0 20 24"><path d="M2.500 1.200h9.300l6.200 6.200v14.400c0 .7-.5 1.200-1.200 1.200H2.500c-.7 0-1.200-.5-1.200-1.200V2.400c0-.7.5-1.200 1.200-1.200z" fill="none" stroke-width="2.200"/><path d="M11.500 1v7h7z" stroke="none" class="fold"/></svg><span style="margin-left:12px">Rechnungseingang</span></div>
<div class="c" style="left:369.300px"><svg class="ic stamp" viewBox="0 0 20.300 25"><path d="M10.150 12.500C7.600 10 5.250 8.300 5.250 6.100a4.900 4.900 0 1 1 9.800 0c0 2.200-2.350 3.900-4.900 6.400z" fill="none" stroke-width="2.400" stroke-linejoin="round"/><rect x="8.950" y="12.800" width="2.400" height="2.500" stroke="none"/><rect x="0" y="14.700" width="20.300" height="10.200" rx="2.600" stroke="none"/><rect class="slot" x="2.700" y="17.500" width="14.900" height="2.300" stroke="none"/></svg><span style="margin-left:12px">Freigegeben</span></div>
<div class="c" style="left:510px"></div>
<div class="c" style="left:736px">468398680123...</div>
<div class="c" style="left:859px">4,95</div>
<div class="c" style="left:1031.500px"><svg class="cb on" viewBox="0 0 20 20"><rect x="1" y="1" width="18" height="18" rx="3" ry="3"/><path d="M4.300 10.300l4 4 7.500-8" fill="none" stroke-width="1.800"/></svg></div>
<div class="c" style="left:1173.700px"><svg class="cb on" viewBox="0 0 20 20"><rect x="1" y="1" width="18" height="18" rx="3" ry="3"/><path d="M4.300 10.300l4 4 7.500-8" fill="none" stroke-width="1.800"/></svg></div>
<div class="c" style="left:1265px">2025-09-16</div>
</div>
<div class="row alt" style="top:438.68px;height:44.22px">
<div class="c c0"><span class="id">612</span><i class="tri"></i></div>
<div class="c" style="left:75px">2024-04-23</div>
<div class="c" style="left:181px"><svg class="ic doc" viewBox="0 0 20 24"><path d="M2.500 1.200h9.300l6.200 6.200v14.400c0 .7-.5 1.200-1.200 1.200H2.500c-.7 0-1.200-.5-1.200-1.200V2.400c0-.7.5-1.200 1.200-1.200z" fill="none" stroke-width="2.200"/><path d="M11.500 1v7h7z" stroke="none" class="fold"/></svg><span style="margin-left:12px">Rechnungseingang</span></div>
<div class="c" style="left:369.300px"><svg class="ic stamp" viewBox="0 0 20.300 25"><path d="M10.150 12.500C7.600 10 5.250 8.300 5.250 6.100a4.900 4.900 0 1 1 9.800 0c0 2.200-2.350 3.900-4.900 6.400z" fill="none" stroke-width="2.400" stroke-linejoin="round"/><rect x="8.950" y="12.800" width="2.400" height="2.500" stroke="none"/><rect x="0" y="14.700" width="20.300" height="10.200" rx="2.600" stroke="none"/><rect class="slot" x="2.700" y="17.500" width="14.900" height="2.300" stroke="none"/></svg><span style="margin-left:12px">Freigegeben</span></div>
<div class="c" style="left:510px"></div>
<div class="c" style="left:736px">100143440309</div>
<div class="c" style="left:859px">26,5</div>
<div class="c" style="left:1031.500px"><svg class="cb on" viewBox="0 0 20 20"><rect x="1" y="1" width="18" height="18" rx="3" ry="3"/><path d="M4.300 10.300l4 4 7.500-8" fill="none" stroke-width="1.800"/></svg></div>
<div class="c" style="left:1173.700px"><svg class="cb on" viewBox="0 0 20 20"><rect x="1" y="1" width="18" height="18" rx="3" ry="3"/><path d="M4.300 10.300l4 4 7.500-8" fill="none" stroke-width="1.800"/></svg></div>
<div class="c" style="left:1265px">2025-09-16</div>
</div>
<div class="row" style="top:482.90px;height:44.22px">
<div class="c c0"><span class="id">613</span><i class="tri"></i></div>
<div class="c" style="left:75px">2024-04-22</div>
<div class="c" style="left:181px"><svg class="ic doc" viewBox="0 0 20 24"><path d="M2.500 1.200h9.300l6.200 6.200v14.400c0 .7-.5 1.200-1.200 1.200H2.500c-.7 0-1.200-.5-1.200-1.200V2.400c0-.7.5-1.200 1.200-1.200z" fill="none" stroke-width="2.200"/><path d="M11.500 1v7h7z" stroke="none" class="fold"/></svg><span style="margin-left:12px">Rechnungseingang</span></div>
<div class="c" style="left:369.300px"><svg class="ic stamp" viewBox="0 0 20.300 25"><path d="M10.150 12.500C7.600 10 5.250 8.300 5.250 6.100a4.900 4.900 0 1 1 9.800 0c0 2.200-2.350 3.900-4.900 6.400z" fill="none" stroke-width="2.400" stroke-linejoin="round"/><rect x="8.950" y="12.800" width="2.400" height="2.500" stroke="none"/><rect x="0" y="14.700" width="20.300" height="10.200" rx="2.600" stroke="none"/><rect class="slot" x="2.700" y="17.500" width="14.900" height="2.300" stroke="none"/></svg><span style="margin-left:12px">Freigegeben</span></div>
<div class="c" style="left:510px"></div>
<div class="c" style="left:736px">DE475YLABEY</div>
<div class="c" style="left:859px">397,81</div>
<div class="c" style="left:1031.500px"><svg class="cb on" viewBox="0 0 20 20"><rect x="1" y="1" width="18" height="18" rx="3" ry="3"/><path d="M4.300 10.300l4 4 7.500-8" fill="none" stroke-width="1.800"/></svg></div>
<div class="c" style="left:1173.700px"><svg class="cb on" viewBox="0 0 20 20"><rect x="1" y="1" width="18" height="18" rx="3" ry="3"/><path d="M4.300 10.300l4 4 7.500-8" fill="none" stroke-width="1.800"/></svg></div>
<div class="c" style="left:1265px">2025-09-16</div>
</div>
<div class="row alt" style="top:527.12px;height:44.22px">
<div class="c c0"><span class="id">614</span><i class="tri"></i></div>
<div class="c" style="left:75px">2024-04-19</div>
<div class="c" style="left:181px"><svg class="ic doc" viewBox="0 0 20 24"><path d="M2.500 1.200h9.300l6.200 6.200v14.400c0 .7-.5 1.200-1.200 1.200H2.500c-.7 0-1.200-.5-1.200-1.200V2.400c0-.7.5-1.200 1.200-1.200z" fill="none" stroke-width="2.200"/><path d="M11.500 1v7h7z" stroke="none" class="fold"/></svg><span style="margin-left:12px">Rechnungseingang</span></div>
<div class="c" style="left:369.300px"><svg class="ic stamp" viewBox="0 0 20.300 25"><path d="M10.150 12.500C7.600 10 5.250 8.300 5.250 6.100a4.900 4.900 0 1 1 9.800 0c0 2.200-2.350 3.900-4.900 6.400z" fill="none" stroke-width="2.400" stroke-linejoin="round"/><rect x="8.950" y="12.800" width="2.400" height="2.500" stroke="none"/><rect x="0" y="14.700" width="20.300" height="10.200" rx="2.600" stroke="none"/><rect class="slot" x="2.700" y="17.500" width="14.900" height="2.300" stroke="none"/></svg><span style="margin-left:12px">Freigegeben</span></div>
<div class="c" style="left:510px"></div>
<div class="c" style="left:736px">01435724S</div>
<div class="c" style="left:859px">70,21</div>
<div class="c" style="left:1031.500px"><svg class="cb on" viewBox="0 0 20 20"><rect x="1" y="1" width="18" height="18" rx="3" ry="3"/><path d="M4.300 10.300l4 4 7.500-8" fill="none" stroke-width="1.800"/></svg></div>
<div class="c" style="left:1173.700px"><svg class="cb on" viewBox="0 0 20 20"><rect x="1" y="1" width="18" height="18" rx="3" ry="3"/><path d="M4.300 10.300l4 4 7.500-8" fill="none" stroke-width="1.800"/></svg></div>
<div class="c" style="left:1265px">2025-09-16</div>
</div>
</div>

<div id="sline" class="abs"></div><div id="sline2" class="abs"></div>
<svg class="sico" style="left:1346px;top:178px;width:18px;height:18px" viewBox="0 0 24 24" fill="#2f8bc9"><path d="M3 17.250V21h3.750L17.810 9.940l-3.750-3.750L3 17.250zM20.710 7.040c.39-.39.39-1.020 0-1.410l-2.340-2.340c-.39-.39-1.020-.39-1.410 0l-1.830 1.830 3.750 3.750 1.830-1.830z"/></svg>
<svg class="sico" style="left:1375px;top:177px;width:19px;height:19px" viewBox="0 0 24 24" fill="#9e9e9e"><path d="M7 11v2h10v-2H7zm5-9C6.480 2 2 6.480 2 12s4.480 10 10 10 10-4.480 10-10S17.520 2 12 2zm0 18c-4.410 0-8-3.590-8-8s3.590-8 8-8 8 3.590 8 8-3.590 8-8 8z"/></svg>
<svg class="sico" style="left:1404px;top:178px;width:19px;height:18px" viewBox="0 0 24 24" fill="#9e9e9e"><path fill-rule="evenodd" d="M17 3H5c-1.110 0-2 .9-2 2v14c0 1.100.89 2 2 2h14c1.100 0 2-.9 2-2V7l-4-4zm2 16H5V5h11.170L19 7.830V19zm-7-7c-1.660 0-3 1.340-3 3s1.340 3 3 3 3-1.340 3-3-1.340-3-3-3zM6 6h9v4H6z"/></svg>
<div id="pvhead" class="abs"><span>604</span></div>
<div id="pvdoc" class="abs">
<div style="top:125px;font-size:7.600px;color:#333">Klein &amp; Groß GmbH - Bauerngasse 30 - 90443 Nürnberg</div>
<div style="top:141px;font-size:9.600px;line-height:11.500px;font-weight:bold">Müller und Meier kann es AG<br>Norbert Schreiber<br>Hinter der Leite 23<br>90589 Nürnberg<br>Baern</div>
<div style="top:275px;font-size:9.700px;line-height:10.500px;color:#151515">Sehr geehrte Damen und Herren,<br>nachfolgend berechnen wir Ihnen wie vereinbart</div>
<div style="top:312.600px;font-size:11.500px;font-weight:bold;line-height:14px">Rechnung 202410002</div>
<div style="top:327.200px;font-size:7.200px;line-height:9px;color:#333">Das Rechnungsdatum entspricht dem Leistungsdatum</div>
<div style="top:343px;width:200px;height:1px;background:#888"></div>
<div style="top:350.600px;font-size:9.500px;font-weight:bold;line-height:11px">Pos</div>
<div style="top:350.600px;left:80px;font-size:9.500px;font-weight:bold;line-height:11px">Art-Nr.</div>
<div style="top:350.600px;left:161.500px;font-size:9.500px;font-weight:bold;line-height:11px">Bezeichnung</div>
<div style="top:364.600px;font-size:9.400px;line-height:11.700px;color:#1a1a1a">1</div><div style="top:364.600px;left:80px;font-size:9.400px;line-height:11.700px;color:#1a1a1a">10000</div><div style="top:364.600px;left:161px;font-size:9.400px;line-height:11.700px;color:#1a1a1a">Servicearbeiten<br>Vieles sägen und</div>
<div style="top:390.600px;font-size:9.400px;line-height:11.700px;color:#1a1a1a">2</div><div style="top:390.600px;left:80px;font-size:9.400px;line-height:11.700px;color:#1a1a1a">11000</div><div style="top:390.600px;left:161px;font-size:9.400px;line-height:11.700px;color:#1a1a1a">Schönes Holz<br>Stücklänge 2m</div>
<div style="top:418.400px;font-size:9.400px;line-height:11.700px;color:#1a1a1a">3</div><div style="top:418.400px;left:80px;font-size:9.400px;line-height:11.700px;color:#1a1a1a">10000</div><div style="top:418.400px;left:161px;font-size:9.400px;line-height:11.700px;color:#1a1a1a">Servicearbeiten</div>
<div style="top:444.400px;font-size:9.400px;line-height:11.700px;color:#1a1a1a">4</div><div style="top:444.400px;left:80px;font-size:9.400px;line-height:11.700px;color:#1a1a1a">11000</div><div style="top:444.400px;left:161px;font-size:9.400px;line-height:11.700px;color:#1a1a1a">Schönes Holz<br>Stücklänge 2m</div>
<div style="top:472px;width:200px;height:1px;background:#555"></div>
<div style="top:530.400px;font-size:9.700px;line-height:21.150px;color:#151515">Vielen Dank für Ihren Auftrag!<br>Bitte begleichen Sie den offenen Betrag<br>Mit freundlichen Grüßen<br>Klein &amp; Groß GmbH</div>
<div style="top:750px;width:200px;height:1px;background:#777"></div>
<div style="top:759px;font-size:6.700px;line-height:8.200px;color:#222">Zahlungsempfänger<br>Bankverbindung</div>
<div style="top:759px;left:171px;font-size:6.700px;line-height:8.200px;color:#222">Klein &amp; Groß GmbH<br>GLS Gemeinschaftsbank<br>BIC GENODEM1GLS</div>
</div>
<div class="tick" style="top:541px"></div><div class="tick" style="top:658px"></div><div class="tick" style="top:828px"></div>
<div id="pvline" class="abs"></div>
<div id="pvfoot" class="abs">
<div class="navc" style="left:152px"><svg viewBox="0 0 24 24" style="position:absolute;left:8px;top:8px;width:33px;height:33px" fill="#fff"><path d="M18.410 16.590L13.820 12l4.590-4.590L17 6l-6 6 6 6zM6 6h2.200v12H6z"/></svg></div>
<div class="navc" style="left:207px"></div>
</div>
<div id="tabs" class="abs">
<svg viewBox="0 0 24 24" style="position:absolute;left:34.500px;top:12px;width:29px;height:29px"><circle cx="12" cy="12" r="9.300" fill="none" stroke="#2f8bc9" stroke-width="2.500" stroke-dasharray="2.600 2.270"/><path d="M12 6.800v5.500l3.200 3.200" fill="none" stroke="#2f8bc9" stroke-width="2.400"/></svg>
<span style="left:9px;color:#2f8bc9">Aktivitäten</span>
<svg viewBox="0 0 26 20" style="position:absolute;left:122px;top:17px;width:26px;height:20px"><path d="M3.200 1.200h13.600l7.400 7.200v8.400c0 1.100-.9 2-2 2H3.200c-1.100 0-2-.9-2-2V3.200c0-1.100.9-2 2-2z" fill="none" stroke="#7d7d7d" stroke-width="2.200"/><path d="M16.200 1.200v7.400h8" fill="none" stroke="#7d7d7d" stroke-width="2.200"/></svg>
<span style="left:106px;color:#8e8e8e">Notizen</span>
<svg viewBox="0 0 24 24" style="position:absolute;left:202px;top:12px;width:30px;height:30px" fill="none" stroke="#7d7d7d" stroke-width="1.800"><circle cx="5" cy="12" r="2.300"/><circle cx="18" cy="5" r="2.300"/><circle cx="18" cy="19" r="2.300"/><path d="M7 11l9-5M7 13l9 5"/></svg>
<span style="left:181px;color:#8e8e8e">Aktionen</span>
</div>
<div id="fab" class="abs"><svg viewBox="0 0 24 24" style="position:absolute;left:10px;top:10px;width:29px;height:29px" fill="none" stroke="#fff" stroke-width="2"><rect x="4" y="4" width="6" height="9"/><rect x="14" y="4" width="6" height="4"/><rect x="14" y="11" width="6" height="9"/><rect x="4" y="16" width="6" height="4"/></svg></div>
<div id="hsb" class="abs"></div><div id="hthumb" class="abs"></div><div id="botline" class="abs"></div>
<div id="nmblur" class="abs"><div class="inner"><div class="st" style="top:20.14px;background:#fff"><span>easybill GmbH</span></div><div class="st" style="top:64.36px;background:#f3f3f3"><span>Hetz</span></div><div class="st" style="top:108.58px;background:#fff"><span>Deutsche Bahn AG 2024</span></div><div class="st" style="top:152.80px;background:#f3f3f3"><span>e.on Energie Deutschland mbH AG</span></div><div class="st" style="top:197.02px;background:#fff"><span>Handwerkskammer Nürnberg eV</span></div><div class="st" style="top:241.24px;background:#f3f3f3"><span>Müller AG</span></div><div class="st" style="top:285.46px;background:#fff"><span>Telekom Deutschland West GmbH</span></div><div class="st" style="top:329.68px;background:#f3f3f3"><span>Müller AG</span></div><div class="st" style="top:373.90px;background:#fff"><span>Amazon Services EU S.a.r.l</span></div><div class="st" style="top:418.12px;background:#f3f3f3"><span>Strato AG Berlin 10587</span></div></div></div>
<div class="nsl" style="top:402.14px">easybill GmbH</div><div class="nsl" style="top:446.36px">Hetz</div><div class="nsl" style="top:490.58px">Deutsche Bahn AG 2024</div><div class="nsl" style="top:534.80px">e.on Energie Deutschland mbH AG</div><div class="nsl" style="top:579.02px">Handwerkskammer Nürnberg eV</div><div class="nsl" style="top:623.24px">Müller AG</div><div class="nsl" style="top:667.46px">Telekom Deutschland West GmbH</div><div class="nsl" style="top:711.68px">Müller AG</div><div class="nsl" style="top:755.90px">Amazon Services EU S.a.r.l</div><div class="nsl" style="top:800.12px">Strato AG Berlin 10587</div>
<div class="ntl" style="top:534.80px"><span style="left:-14px">AG</span></div><div class="ntl" style="top:667.46px"><span style="left:-15.500px">bH</span></div>
<div id="win" class="abs">
<div class="tbar"><div class="logo">A</div><div class="ttl">ecoDMS Tool 11.16</div><div class="wbtn" style="left:246px;top:11px;width:9px;height:2px;background:#aeb5ba"></div><div class="wbtn" style="left:286px;top:7px;width:10px;height:10px;border:2px solid #b4babf;border-radius:2px"></div></div>
<div class="ban"><b>ARKIVADO</b><i>einfach ablegen...</i></div>
<div class="lbl" style="left:21px;top:136px;font-size:10.300px;color:#6a6a6a">ecoDMS Tool&nbsp; 11.16+</div>
<div class="lbl" style="left:12px;top:171px">Von</div>
<div class="inp" style="top:168px"><span>17.09.2025</span></div><div class="cal" style="top:168px"><svg viewBox="0 0 27 27" style="position:absolute;left:0;top:0;width:27px;height:27px;filter:blur(.4px)" fill="none" stroke="#d9f0e8" stroke-width="1.400"><rect x="5" y="7" width="17" height="15" rx="1"/><path d="M5 11h17M9 4.500v4M18 4.500v4M9.500 14v6M13.500 14v6M17.500 14v6M7 16.500h13"/></svg></div>
<div class="lbl" style="left:12px;top:206px">Bis</div>
<div class="inp" style="top:203px;border-color:#dfe9e6;box-shadow:0 0 2px rgba(200,215,210,.6)"><span>17.09.2025</span></div><div class="cal" style="top:203px"><svg viewBox="0 0 27 27" style="position:absolute;left:0;top:0;width:27px;height:27px;filter:blur(.4px)" fill="none" stroke="#d9f0e8" stroke-width="1.400"><rect x="5" y="7" width="17" height="15" rx="1"/><path d="M5 11h17M9 4.500v4M18 4.500v4M9.500 14v6M13.500 14v6M17.500 14v6M7 16.500h13"/></svg></div>
<div class="btn teal" style="top:337px"><em>Datev Export</em></div>
<div class="btn teal" style="top:381px"><em>SEPA Export</em></div>
<div class="btn teal" style="top:470px"><em>Rechnungsliste</em></div>
<div class="btn" style="top:604px;background:#ff7a50;color:#ffe2d6"><em>Beenden</em></div>
<div class="btn" style="top:648px;background:#f0959b;color:#fde3e5"><em>Hilfe</em></div>
<div class="btn" style="top:692px;background:#fff;border:1.500px solid #a9d8ea;color:#a9d3e6;line-height:24px;box-shadow:0 0 2px rgba(150,205,230,.7)"><em>Log</em></div>
<div class="btn" style="top:737px;background:#fff;border:1.500px solid #e3e3e3;color:#d0d0d0;line-height:24px;box-shadow:0 0 2px rgba(200,200,200,.6)"><em>Abbrechen</em></div>
</div>
<div id="yellow" class="abs"></div>
</body>
</html>
